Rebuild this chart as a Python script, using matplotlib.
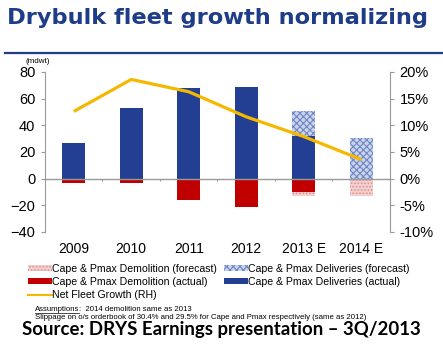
import matplotlib.pyplot as plt
from matplotlib.patches import Patch
from matplotlib.lines import Line2D

years = ['2009', '2010', '2011', '2012', '2013 E', '2014 E']
deliveries_actual = [27, 53, 68, 69, 32, 0]
deliveries_forecast = [0, 0, 0, 0, 19, 30.5]
demolition_actual = [-3.5, -3, -16, -21, -10, 0]
demolition_forecast = [0, 0, 0, 0, -3, -13]
net_growth = [12.6, 18.6, 16.3, 11.6, 7.9, 3.6]

BLUE = '#233f94'
RED = '#c00000'
YELLOW = '#f5b800'
GREY = '#999999'

plt.rcParams['font.family'] = ['Liberation Sans', 'DejaVu Sans']
plt.rcParams['hatch.linewidth'] = 0.8


def main():
    fig = plt.figure(figsize=(4.43, 3.55), dpi=100)

    # header
    fig.text(0.015, 0.949, 'Drybulk fleet growth normalizing', family='DejaVu Sans',
             weight='bold', color='#1f3c88', fontsize=16.2, va='center', ha='left')
    fig.add_artist(Line2D([0.012, 1.0], [0.851, 0.851], color='#1f3c88', lw=1.6))

    ax = fig.add_axes([0.1016, 0.3465, 0.7784, 0.4507])
    x = list(range(len(years)))
    w = 0.4

    ax.bar(x, deliveries_actual, w, color=BLUE)
    ax.bar(x, deliveries_forecast, w, bottom=deliveries_actual, color='#c9d3ec',
           edgecolor='#6f86c4', hatch='xxxxx', lw=0)
    ax.bar(x, demolition_actual, w, color=RED)
    ax.bar(x, demolition_forecast, w, bottom=demolition_actual, color='#f4d2d2',
           edgecolor='#e08a8a', hatch='.....', lw=0)

    ax.axhline(0, color=GREY, lw=1)
    bounds = [i + 0.5 for i in x[:-1]]
    ax.vlines(bounds, -1.5, 0, color=GREY, lw=0.8)

    ax.set_xlim(-0.5, len(years) - 0.5)
    ax.set_ylim(-40, 80)
    ax.set_yticks(range(-40, 81, 20))
    ax.set_xticks(x)
    ax.set_xticklabels(years)
    ax.tick_params(axis='x', length=0, pad=7, labelsize=10)
    ax.tick_params(axis='y', length=3, color=GREY, labelsize=10.5, pad=4)
    for s in ['top', 'bottom', 'right']:
        ax.spines[s].set_visible(False)
    ax.spines['left'].set_color(GREY)

    ax2 = ax.twinx()
    ax2.plot(x, net_growth, color=YELLOW, lw=2.3, solid_capstyle='butt')
    ax2.set_ylim(-10, 20)
    ax2.set_yticks(range(-10, 21, 5))
    ax2.set_yticklabels(['%d%%' % v for v in range(-10, 21, 5)])
    ax2.tick_params(axis='y', length=3, color=GREY, labelsize=10.5, pad=4)
    for s in ['top', 'bottom', 'left']:
        ax2.spines[s].set_visible(False)
    ax2.spines['right'].set_color(GREY)

    fig.text(0.057, 0.826, '(mdwt)', fontsize=5.8, va='center')

    handles = [
        Patch(facecolor='#f4d2d2', edgecolor='#e08a8a', hatch='.....', lw=0),
        Patch(facecolor=RED),
        Line2D([], [], color=YELLOW, lw=1.5),
        Patch(facecolor='#c9d3ec', edgecolor='#6f86c4', hatch='xxxxx', lw=0),
        Patch(facecolor=BLUE),
    ]
    labels = ['Cape & Pmax Demolition (forecast)', 'Cape & Pmax Demolition (actual)',
              'Net Fleet Growth (RH)', 'Cape & Pmax Deliveries (forecast)',
              'Cape & Pmax Deliveries (actual)']
    fig.legend(handles, labels, ncol=2, loc='upper left', bbox_to_anchor=(0.052, 0.272),
               frameon=False, fontsize=7.6, handlelength=2.2, handleheight=0.45,
               handletextpad=0.05, columnspacing=0.7, labelspacing=0.3, borderpad=0)

    fs = 5.6
    t = fig.text(0.078, 0.127, 'Assumptions', fontsize=fs, va='center')
    fig.canvas.draw()
    bb = t.get_window_extent().transformed(fig.transFigure.inverted())
    fig.text(bb.x1, 0.127, ':  2014 demolition same as 2013', fontsize=fs, va='center')
    fig.add_artist(Line2D([bb.x0, bb.x1], [bb.y0 + 0.002, bb.y0 + 0.002], color='black', lw=0.5))
    fig.text(0.078, 0.105, 'Slippage on o/s orderbook of 30.4% and 29.5% for Cape and Pmax '
             'respectively (same as 2012)', fontsize=fs, va='center')

    fig.text(0.5, 0.072, 'Source: DRYS Earnings presentation \u2013 3Q/2013', family='Lato',
             weight='bold', fontsize=13.4, ha='center', va='center', color='black')

    fig.savefig('out.png', dpi=100)


if __name__ == '__main__':
    main()
